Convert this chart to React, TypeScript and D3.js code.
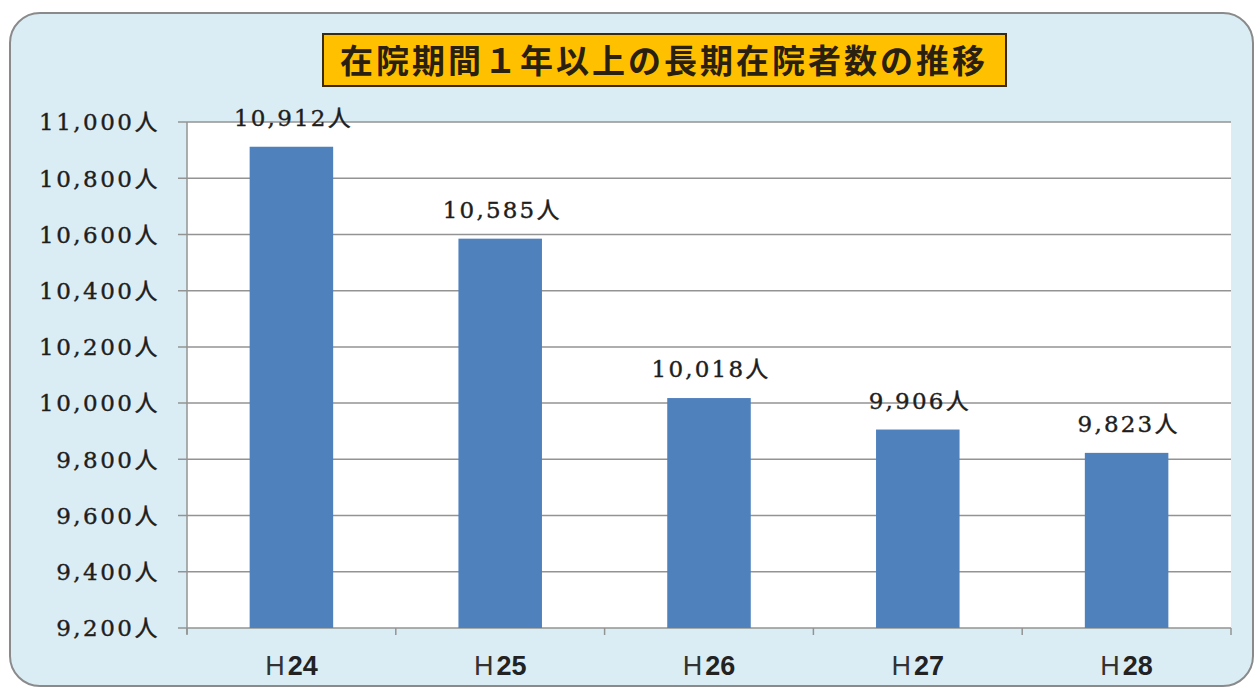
import React from "react";
import * as d3 from "d3";

const categories = ["24", "25", "26", "27", "28"];
const values = [10912, 10585, 10018, 9906, 9823];
const yTicks = [9200, 9400, 9600, 9800, 10000, 10200, 10400, 10600, 10800, 11000];
const title = "在院期間１年以上の長期在院者数の推移";

const W = 1259, H = 695;
const plot = { left: 187, right: 1231, top: 122, bottom: 628 };
const serif = "'DejaVu Serif', 'Liberation Serif', 'Noto Sans CJK JP', serif";
const sans = "'Liberation Sans', Arial, 'Noto Sans CJK JP', sans-serif";
const fmt = d3.format(",");

export default function App() {
  const x = d3.scaleBand<string>().domain(categories).range([plot.left, plot.right]).paddingInner(0.6).paddingOuter(0.3);
  const y = d3.scaleLinear().domain([9200, 11000]).range([plot.bottom, plot.top]);
  const step = x.step();
  const boundaries = d3.range(categories.length + 1).map(i => plot.left + i * step);
  return (
    <svg width={W} height={H} style={{ position: "absolute", left: 0, top: 0 }}>
      <rect x={10} y={13} width={1243} height={673} rx={30} fill="#dbedf4" stroke="#8a8a8a" strokeWidth={2} />
      <rect x={plot.left} y={plot.top} width={plot.right - plot.left} height={plot.bottom - plot.top} fill="#ffffff" />
      {yTicks.map(t => (
        <g key={t}>
          <line x1={178} x2={plot.right} y1={y(t)} y2={y(t)} stroke="#939393" strokeWidth={1.5} />
          <text x={160} y={y(t)} dy="0.36em" textAnchor="end" fontFamily={serif} fontSize={23} letterSpacing={2.5} fill="#1e1e1e" stroke="#1e1e1e" strokeWidth={0.4}>{fmt(t)}人</text>
        </g>
      ))}
      <line x1={plot.left} x2={plot.left} y1={plot.top} y2={plot.bottom + 6} stroke="#939393" strokeWidth={1.5} />
      {boundaries.map((b, i) => (
        <line key={i} x1={b} x2={b} y1={plot.bottom} y2={plot.bottom + 7} stroke="#939393" strokeWidth={1.5} />
      ))}
      {categories.map((c, i) => (
        <g key={c}>
          <rect x={x(c)} y={y(values[i])} width={x.bandwidth()} height={plot.bottom - y(values[i])} fill="#4f81bd" />
          <text x={(x(c) as number) + x.bandwidth() / 2 + 2} y={y(values[i]) - 21} textAnchor="middle" fontFamily={serif} fontSize={23} letterSpacing={2.2} fill="#1e1e1e" stroke="#1e1e1e" strokeWidth={0.4}>{fmt(values[i])}人</text>
          <text x={(x(c) as number) + x.bandwidth() / 2} y={675} textAnchor="middle" fontFamily={sans} fontSize={27} fill="#222">
            <tspan fontWeight="normal" fill="#333">H</tspan><tspan fontWeight="bold" dx={3}>{c}</tspan>
          </text>
        </g>
      ))}
      <rect x={323} y={34} width={683} height={52} fill="#ffc000" stroke="#3a2a10" strokeWidth={2} />
      <text x={664} y={61} dy="0.36em" textAnchor="middle" fontFamily="'Noto Sans CJK JP', sans-serif" fontWeight="bold" fontSize={33} fill="#2a2010" letterSpacing={3}>{title}</text>
    </svg>
  );
}
